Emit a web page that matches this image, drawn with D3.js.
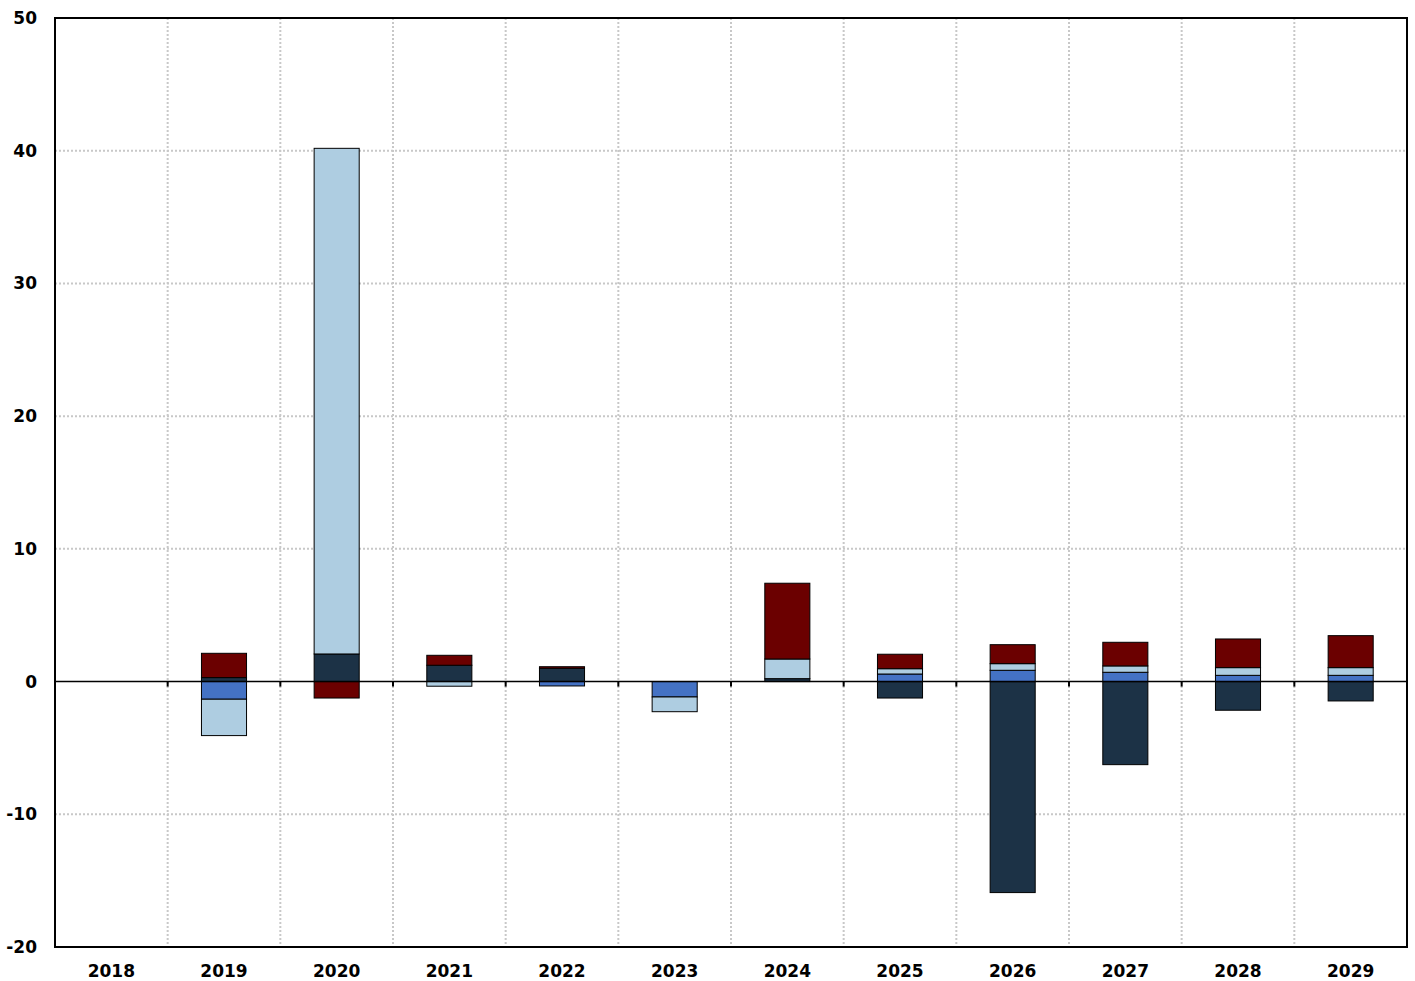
<!DOCTYPE html>
<html>
<head>
<meta charset="utf-8">
<script src="https://cdn.jsdelivr.net/npm/d3@7"></script>
<style>
  body { margin: 0; background: #fff; }
  text { font-family: "DejaVu Sans", sans-serif; font-weight: bold; }
</style>
</head>
<body>
<svg id="chart"></svg>
<script>
// years on the x axis
var years = ["2018", "2019", "2020", "2021", "2022", "2023", "2024", "2025", "2026", "2027", "2028", "2029"];

// series values
var seriesNavy  = [0, 0.30, 2.08, 1.23, 1.00, 0, 0.22, -1.24, -15.9, -6.26, -2.16, -1.46];
var seriesBlue  = [0, -1.33, 0, 0, -0.33, -1.16, 0, 0.57, 0.85, 0.70, 0.47, 0.47];
var seriesLight = [0, -2.74, 38.1, -0.35, 0, -1.11, 1.48, 0.40, 0.50, 0.48, 0.58, 0.58];
var seriesRed   = [0, 1.83, -1.24, 0.75, 0.12, 0, 5.71, 1.09, 1.43, 1.78, 2.16, 2.41];

var yTicks = [-20, -10, 0, 10, 20, 30, 40, 50];

var keys = ["navy", "blue", "light", "red"];
var colors = { navy: "#1c3246", blue: "#4472c4", light: "#aecde1", red: "#6b0000" };

var width = 1415, height = 981;
var margin = { top: 18, right: 8, bottom: 34, left: 55 };

var table = years.map(function(y, i) {
    return { year: y, navy: seriesNavy[i], blue: seriesBlue[i], light: seriesLight[i], red: seriesRed[i] };
});

var svg = d3.select("#chart").attr("width", width).attr("height", height);

var x = d3.scaleBand().domain(years).range([margin.left, width - margin.right]).paddingInner(0).paddingOuter(0);
var y = d3.scaleLinear().domain([-20, 50]).range([height - margin.bottom, margin.top]);

// grid
var grid = svg.append("g");
grid.selectAll("line.h")
    .data(yTicks.filter(function(d) { return d != 0 && d != -20 && d != 50; }))
    .enter().append("line")
    .attr("x1", margin.left).attr("x2", width - margin.right)
    .attr("y1", function(d) { return y(d); }).attr("y2", function(d) { return y(d); })
    .attr("stroke", "#c8c8c8").attr("stroke-width", 2).attr("stroke-dasharray", "2,2");
grid.selectAll("line.v")
    .data(years.slice(1))
    .enter().append("line")
    .attr("x1", function(d) { return x(d); }).attr("x2", function(d) { return x(d); })
    .attr("y1", margin.top).attr("y2", height - margin.bottom)
    .attr("stroke", "#c8c8c8").attr("stroke-width", 2).attr("stroke-dasharray", "2,2");

// bars
var stack = d3.stack().keys(keys).offset(d3.stackOffsetDiverging);
var layers = stack(table);
var barW = x.bandwidth() * 0.4;

svg.append("g").selectAll("g")
    .data(layers)
    .enter().append("g")
    .attr("fill", function(d) { return colors[d.key]; })
    .selectAll("rect")
    .data(function(d) { return d.filter(function(p) { return p[1] - p[0] != 0; }); })
    .enter().append("rect")
    .attr("x", function(d) { return x(d.data.year) + (x.bandwidth() - barW) / 2; })
    .attr("width", barW)
    .attr("y", function(d) { return y(Math.max(d[0], d[1])); })
    .attr("height", function(d) { return Math.abs(y(d[0]) - y(d[1])); })
    .attr("stroke", "#000").attr("stroke-width", 1);

// zero line with ticks
var zeroAxis = d3.axisBottom(x.copy().domain(years)).tickSize(0).tickFormat("");
svg.append("line")
    .attr("x1", margin.left).attr("x2", width - margin.right)
    .attr("y1", y(0)).attr("y2", y(0))
    .attr("stroke", "#000").attr("stroke-width", 1.5);
svg.append("g").selectAll("line")
    .data(years.slice(1).concat(["end"]))
    .enter().append("line")
    .attr("x1", function(d) { return d == "end" ? width - margin.right : x(d); })
    .attr("x2", function(d) { return d == "end" ? width - margin.right : x(d); })
    .attr("y1", y(0)).attr("y2", y(0) + 5)
    .attr("stroke", "#000").attr("stroke-width", 2);

// frame
svg.append("rect")
    .attr("x", margin.left).attr("y", margin.top)
    .attr("width", width - margin.left - margin.right)
    .attr("height", height - margin.top - margin.bottom)
    .attr("fill", "none").attr("stroke", "#000").attr("stroke-width", 2);

// y labels
svg.append("g").selectAll("text")
    .data(yTicks)
    .enter().append("text")
    .attr("x", 37).attr("y", function(d) { return y(d); })
    .attr("dy", "0.35em")
    .attr("text-anchor", "end")
    .attr("font-size", 17)
    .text(function(d) { return d; });

// x labels
svg.append("g").selectAll("text")
    .data(years)
    .enter().append("text")
    .attr("x", function(d) { return x(d) + x.bandwidth() / 2; })
    .attr("y", 971)
    .attr("dy", "0.35em")
    .attr("text-anchor", "middle")
    .attr("font-size", 17)
    .text(function(d) { return d; });
</script>
</body>
</html>
